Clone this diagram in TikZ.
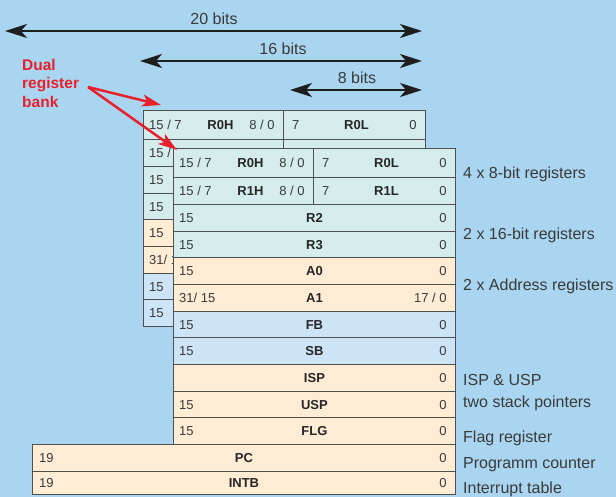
\documentclass[tikz,border=0pt]{standalone}
\usepackage{fontspec}
\setmainfont{Liberation Sans}
\usetikzlibrary{calc,arrows.meta}

\definecolor{bgblue}{RGB}{169,213,240}
\definecolor{tealfill}{RGB}{213,236,236}
\definecolor{orangefill}{RGB}{254,236,213}
\definecolor{bluefill}{RGB}{205,228,247}
\definecolor{regline}{RGB}{80,80,80}
\definecolor{txtgray}{RGB}{58,58,58}
\definecolor{dualred}{RGB}{232,32,44}

\tikzset{
  regbox/.style={draw=regline, line width=0.9pt, rectangle, inner sep=0pt, anchor=north west},
  regtxt/.style={font=\fontsize{13}{15}\selectfont, text=txtgray, inner sep=0pt, text height=9.4pt, text depth=0pt},
  regname/.style={font=\fontsize{13}{15}\selectfont\bfseries, text=black!85, inner sep=0pt, text height=9.4pt, text depth=0pt},
  sidetxt/.style={font=\fontsize{16}{18}\selectfont, text=txtgray, anchor=west, inner sep=0pt, text height=11.5pt, text depth=0pt},
  bittxt/.style={font=\fontsize{16}{18}\selectfont, text=txtgray, inner sep=0pt, text height=11.5pt, text depth=0pt},
  bitarrow/.style={{Stealth[length=22pt,width=14pt,inset=6pt]}-{Stealth[length=22pt,width=14pt,inset=6pt]}, line width=2.2pt, draw=black!88},
  redarrow/.style={-{Stealth[length=19pt,width=12pt,inset=5pt]}, line width=2.5pt, draw=dualred},
}

\begin{document}
\begin{tikzpicture}[x=1pt,y=-1pt]
    \useasboundingbox (0,0) rectangle (616,497);
    \fill[bgblue] (0,0) rectangle (616,497);

    \foreach \b/\dx/\dy in {back/-30/-38, front/0/0}{
      \begin{scope}[shift={(\dx,\dy)}]
        \foreach \hi/\lo/\yy/\hh in {R0H/R0L/148/29, R1H/R1L/177/27}{
          \node[regbox, fill=tealfill, minimum width=140, minimum height=\hh] (\b-\hi) at (173,\yy) {};
          \node[regbox, fill=tealfill, minimum width=142, minimum height=\hh] (\b-\lo) at (313,\yy) {};
          \node[regtxt, anchor=west] (\b-\hi-l) at ([xshift=6pt]\b-\hi.west) {15 / 7};
        }
        \foreach \rn/\yy/\hh/\col/\lt in {R2/204/27/tealfill/15, R3/231/26/tealfill/15,
            A0/257/27/orangefill/15, A1/284/27/orangefill/{31/ 15},
            FB/311/26/bluefill/15, SB/337/27/bluefill/15}{
          \node[regbox, fill=\col, minimum width=282, minimum height=\hh] (\b-\rn) at (173,\yy) {};
          \node[regtxt, anchor=west] (\b-\rn-l) at ([xshift=6pt]\b-\rn.west) {\lt};
        }
      \end{scope}
    }

    \node[regname] (back-R0H-n) at ([xshift=7pt]back-R0H.center) {R0H};
    \node[regtxt, anchor=east] (back-R0H-r) at ([xshift=-9pt]back-R0H.east) {8 / 0};
    \node[regtxt, anchor=west] (back-R0L-l) at ([xshift=9pt]back-R0L.west) {7};
    \node[regname] (back-R0L-n) at ([xshift=2pt]back-R0L.center) {R0L};
    \node[regtxt, anchor=east] (back-R0L-r) at ([xshift=-9pt]back-R0L.east) {0};

    \foreach \hi/\lo in {R0H/R0L, R1H/R1L}{
      \node[regname] (front-\hi-n) at ([xshift=7pt]front-\hi.center) {\hi};
      \node[regtxt, anchor=east] (front-\hi-r) at ([xshift=-9pt]front-\hi.east) {8 / 0};
      \node[regtxt, anchor=west] (front-\lo-l) at ([xshift=9pt]front-\lo.west) {7};
      \node[regname] (front-\lo-n) at ([xshift=2pt]front-\lo.center) {\lo};
      \node[regtxt, anchor=east] (front-\lo-r) at ([xshift=-9pt]front-\lo.east) {0};
    }
    \foreach \rn/\rt in {R2/0, R3/0, A0/0, A1/{17 / 0}, FB/0, SB/0}{
      \node[regname] (front-\rn-n) at (front-\rn.center) {\rn};
      \node[regtxt, anchor=east] (front-\rn-r) at ([xshift=-9pt]front-\rn.east) {\rt};
    }

    \foreach \rn/\yy/\hh/\lt in {ISP/364/27/{}, USP/391/26/15, FLG/417/27/15}{
      \node[regbox, fill=orangefill, minimum width=282, minimum height=\hh] (front-\rn) at (173,\yy) {};
      \node[regtxt, anchor=west] (front-\rn-l) at ([xshift=6pt]front-\rn.west) {\lt};
      \node[regname] (front-\rn-n) at (front-\rn.center) {\rn};
      \node[regtxt, anchor=east] (front-\rn-r) at ([xshift=-9pt]front-\rn.east) {0};
    }
    \foreach \rn/\yy/\hh in {PC/444/27, INTB/471/23}{
      \node[regbox, fill=orangefill, minimum width=423, minimum height=\hh] (\rn) at (32,\yy) {};
      \node[regtxt, anchor=west] (\rn-l) at ([xshift=7pt]\rn.west) {19};
      \node[regname] (\rn-n) at (\rn.center) {\rn};
      \node[regtxt, anchor=east] (\rn-r) at ([xshift=-9pt]\rn.east) {0};
    }

    \node[sidetxt] (lab-8bit) at (463,173) {4 x 8-bit registers};
    \node[sidetxt] (lab-16bit) at (463,234) {2 x 16-bit registers};
    \node[sidetxt] (lab-addr) at (463,285) {2 x Address registers};
    \node[sidetxt] (lab-isp) at (463,380) {ISP \& USP};
    \node[sidetxt] (lab-stack) at (463,402) {two stack pointers};
    \node[sidetxt] (lab-flg) at (463,437) {Flag register};
    \node[sidetxt] (lab-pc) at (463,463) {Programm counter};
    \node[sidetxt] (lab-intb) at (463,488) {Interrupt table};

    \coordinate (b20-l) at (5,31);
    \coordinate (b20-r) at (422,31);
    \coordinate (b16-l) at (140,61);
    \coordinate (b16-r) at (422,61);
    \coordinate (b8-l) at (290,90);
    \coordinate (b8-r) at (422,90);
    \draw[bitarrow] (b20-l) -- (b20-r);
    \draw[bitarrow] (b16-l) -- (b16-r);
    \draw[bitarrow] (b8-l) -- (b8-r);
    \node[bittxt] (b20) at (214,19) {20 bits};
    \node[bittxt] (b16) at (283,49) {16 bits};
    \node[bittxt] (b8) at (357,78) {8 bits};

    \node[anchor=north west, inner sep=0pt, align=left, text=dualred,
          font=\fontsize{15.5}{18.5}\selectfont\bfseries] (dual) at (22,59) {Dual\\register\\bank};
    \coordinate (dual-tail) at (88,87);
    \draw[redarrow] (dual-tail) -- ([shift={(18,-5)}]back-R0H.north west);
    \draw[redarrow] (dual-tail) -- ([shift={(4,2)}]front-R0H.north west);
\end{tikzpicture}
\end{document}
